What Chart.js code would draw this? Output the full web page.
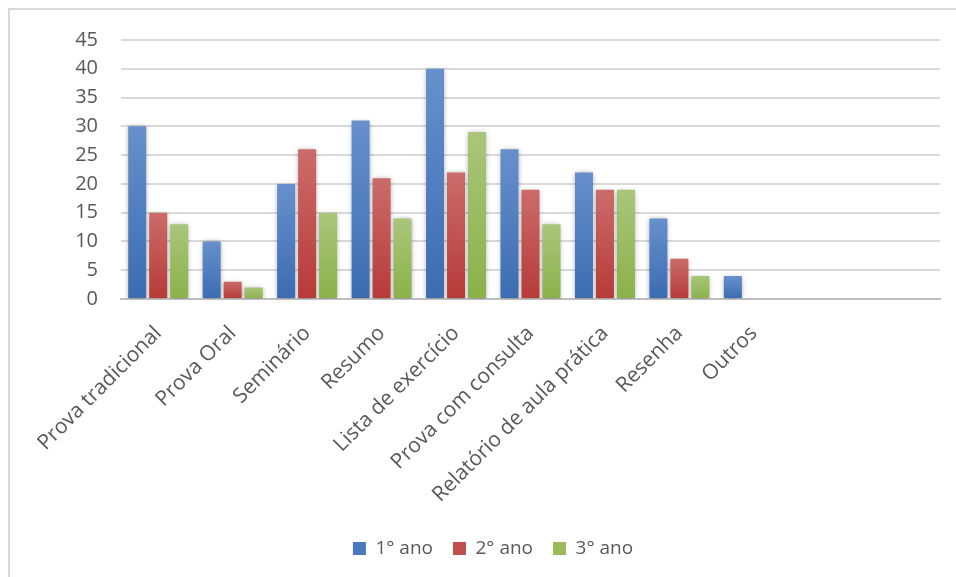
<!DOCTYPE html>
<html>
<head>
<meta charset="utf-8">
<script src="https://cdn.jsdelivr.net/npm/chart.js@4/dist/chart.umd.min.js"></script>
<style>
  html, body { margin: 0; padding: 0; background: #fff; }
  #wrap { position: relative; width: 956px; height: 577px; overflow: hidden; }
  #frame {
    position: absolute; left: 8px; top: 8px; width: 1000px; height: 600px;
    border-top: 2px solid #d9d9d9; border-left: 2px solid #d9d9d9;
  }
  #c { position: absolute; left: 0; top: 0; }
</style>
</head>
<body>
<div id="wrap">
  <div id="frame"></div>
  <canvas id="c" width="956" height="577"></canvas>
</div>
<script>
// categorias (as duas últimas ficam vazias, como na planilha)
const categorias = [
  "Prova tradicional", "Prova Oral", "Seminário", "Resumo",
  "Lista de exercício", "Prova com consulta", "Relatório de aula prática",
  "Resenha", "Outros", "", ""
];
const ano1 = [30, 10, 20, 31, 40, 26, 22, 14, 4, null, null];
const ano2 = [15, 3, 26, 21, 22, 19, 19, 7, 0, null, null];
const ano3 = [13, 2, 15, 14, 29, 13, 19, 4, 0, null, null];
const yTicks = [0, 5, 10, 15, 20, 25, 30, 35, 40, 45];

const cores = {
  azul:     { topo: "#6790cc", base: "#3b6cb1", legenda: "#4a79bd" },
  vermelho: { topo: "#cb6c6a", base: "#b73a38", legenda: "#c0504d" },
  verde:    { topo: "#a9c67b", base: "#8bb149", legenda: "#9bbb59" }
};

// degradê vertical por barra: claro em cima, escuro embaixo
function degrade(cor) {
  return ctx => {
    const chart = ctx.chart;
    const v = ctx.raw;
    if (!chart.chartArea || v == null || ctx.type !== "data") return cor.legenda;
    const y = chart.scales.y;
    const g = chart.ctx.createLinearGradient(0, y.getPixelForValue(v), 0, y.getPixelForValue(0));
    g.addColorStop(0, cor.topo);
    g.addColorStop(1, cor.base);
    return g;
  };
}

// sombra suave atrás das barras
const sombra = {
  id: "sombra",
  beforeDatasetsDraw(chart) {
    const c = chart.ctx;
    c.save();
    c.shadowColor = "rgba(0,0,0,0.35)";
    c.shadowBlur = 5;
    c.shadowOffsetX = 0;
    c.shadowOffsetY = 1;
  },
  afterDatasetsDraw(chart) {
    chart.ctx.restore();
  }
};

const serie = (label, data, cor) => ({
  label, data,
  backgroundColor: degrade(cor),
  borderWidth: 0,
  categoryPercentage: 0.846,
  barPercentage: 0.857
});

new Chart(document.getElementById("c"), {
  type: "bar",
  data: {
    labels: categorias,
    datasets: [
      serie("1° ano", ano1, cores.azul),
      serie("2° ano", ano2, cores.vermelho),
      serie("3° ano", ano3, cores.verde)
    ]
  },
  plugins: [sombra],
  options: {
    responsive: false,
    animation: false,
    layout: { padding: { left: 46, right: 16, top: 40, bottom: 9 } },
    plugins: {
      tooltip: { enabled: false },
      legend: {
        position: "bottom",
        labels: {
          boxWidth: 13, boxHeight: 13, padding: 20,
          color: "#595959",
          font: { family: "'Open Sans'", size: 19 },
          generateLabels(chart) {
            const itens = Chart.defaults.plugins.legend.labels.generateLabels(chart);
            const lista = [cores.azul, cores.vermelho, cores.verde];
            itens.forEach((it, i) => { it.fillStyle = lista[i].legenda; it.lineWidth = 0; it.strokeStyle = "transparent"; });
            return itens;
          }
        }
      }
    },
    scales: {
      x: {
        grid: { display: false, drawTicks: false },
        border: { display: true, color: "#bfbfbf", width: 2 },
        ticks: {
          color: "#595959",
          font: { family: "'Open Sans'", size: 21 },
          minRotation: 45, maxRotation: 45,
          padding: 22,
          autoSkip: false
        },
        afterFit(s) { s.height = 220; }
      },
      y: {
        min: 0, max: 45,
        afterBuildTicks(s) { s.ticks = yTicks.map(v => ({ value: v })); },
        grid: { color: "#d9d9d9", lineWidth: 2, drawTicks: false },
        border: { display: false },
        ticks: {
          color: "#595959",
          font: { family: "'Open Sans'", size: 20 },
          padding: 23
        },
        afterFit(s) { s.width = 75; }
      }
    }
  }
});
</script>
</body>
</html>
